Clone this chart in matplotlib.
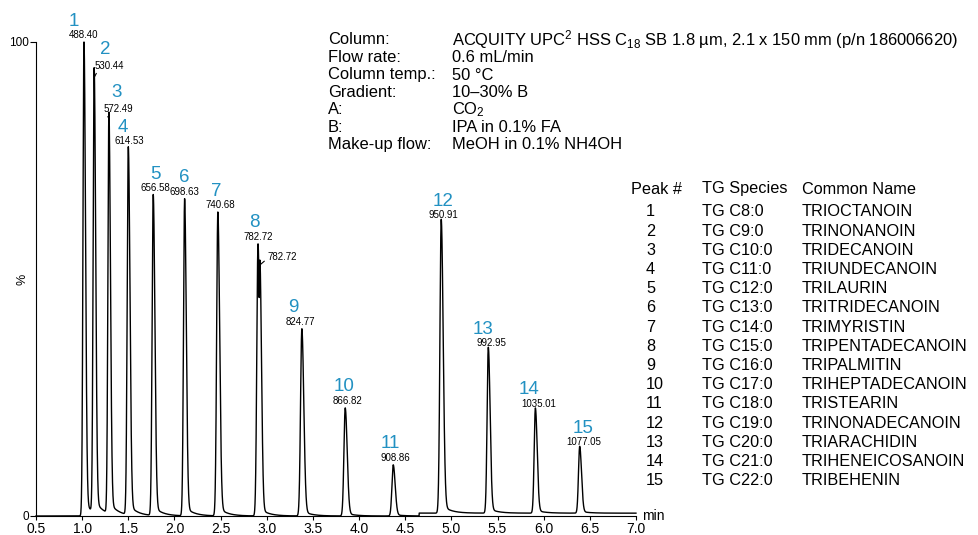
import numpy as np
import matplotlib
matplotlib.use("Agg")
import matplotlib.pyplot as plt

plt.rcParams['font.family'] = ['Liberation Sans', 'DejaVu Sans']
plt.rcParams['mathtext.fontset'] = 'custom'
plt.rcParams['mathtext.rm'] = 'Liberation Sans'
plt.rcParams['mathtext.default'] = 'regular'

# данные пиков (время удерживания, мин / высота, %)
peak_rt = [1.02, 1.13, 1.29, 1.50, 1.77, 2.11, 2.47, 2.905, 3.38, 3.85, 4.37, 4.89, 5.40, 5.91, 6.39]
peak_height = [100, 93.7, 84.6, 77.6, 67.7, 66.9, 64.1, 57.4, 39.5, 22.8, 10.8, 62.0, 35.0, 22.2, 14.1]
peak_width = [0.011, 0.011, 0.011, 0.012, 0.012, 0.012, 0.013, 0.013, 0.014, 0.014, 0.014, 0.014, 0.013, 0.013, 0.013]
peak_mz = ['488.40', '530.44', '572.49', '614.53', '656.58', '698.63', '740.68', '782.72',
           '824.77', '866.82', '908.86', '950.91', '992.95', '1035.01', '1077.05']
# плечо у пика 8
shoulder_rt = 2.925
shoulder_height = 54.0
shoulder_mz = '782.72'
# подъём базовой линии
baseline_start = 4.65
baseline_level = 0.6

peak_num = [str(i) for i in range(1, 16)]
tg_species = ['TG C8:0', 'TG C9:0', 'TG C10:0', 'TG C11:0', 'TG C12:0', 'TG C13:0', 'TG C14:0',
              'TG C15:0', 'TG C16:0', 'TG C17:0', 'TG C18:0', 'TG C19:0', 'TG C20:0', 'TG C21:0',
              'TG C22:0']
common_name = ['TRIOCTANOIN', 'TRINONANOIN', 'TRIDECANOIN', 'TRIUNDECANOIN', 'TRILAURIN',
               'TRITRIDECANOIN', 'TRIMYRISTIN', 'TRIPENTADECANOIN', 'TRIPALMITIN',
               'TRIHEPTADECANOIN', 'TRISTEARIN', 'TRINONADECANOIN', 'TRIARACHIDIN',
               'TRIHENEICOSANOIN', 'TRIBEHENIN']

cond_keys = ['Column:', 'Flow rate:', 'Column temp.:', 'Gradient:', 'A:', 'B:', 'Make-up flow:']
cond_vals = ['ACQUITY UPC$^{2}$ HSS C$_{18}$ SB 1.8 µm, 2.1 x 150 mm (p/n 186006620)',
             '0.6 mL/min', '50 °C', '10–30% B', 'CO$_{2}$', 'IPA in 0.1% FA', 'MeOH in 0.1% NH4OH']

xticks = [0.5, 1.0, 1.5, 2.0, 2.5, 3.0, 3.5, 4.0, 4.5, 5.0, 5.5, 6.0, 6.5, 7.0]

# смещения подписей (в пикселях)
num_dx = [-10, 11, 8, -5, 2, 0, -2, -4, -9, -1, -3, 2, -5, -6, 3]
mz_dx = [0, 15, 9, 1, 2, 0, 2, 0, -1, 2, 2, 2, 3, 3, 4]

BLUE = '#2291c2'
NARROW = ['Liberation Sans Narrow', 'Liberation Sans']


def peak_shape(t, rt, h, w):
    d = t - rt
    left = np.exp(-0.5 * (d / w) ** 2)
    a, tau = 0.03, 0.09
    right = (1 - a) * np.exp(-0.5 * (d / (1.5 * w)) ** 2) + a * np.exp(-np.clip(d, 0, None) / tau)
    return h * np.where(d < 0, left, right)


t = np.arange(0.5, 7.0, 0.0005)
signal = np.where(t >= baseline_start, baseline_level, 0.0)
for rt, h, w in zip(peak_rt, peak_height, peak_width):
    signal = signal + peak_shape(t, rt, h, w)
signal = np.maximum(signal, peak_shape(t, shoulder_rt, shoulder_height, 0.012))

fig = plt.figure(figsize=(9.79, 5.35), dpi=100)
ax = fig.add_axes([36 / 979, 19 / 535, 600 / 979, 474 / 535])
ax.plot(t, signal, color='black', lw=1.0, clip_on=False)

ax.set_xlim(0.5, 7.0)
ax.set_ylim(0, 100)
ax.spines['top'].set_visible(False)
ax.spines['right'].set_visible(False)
ax.set_xticks(xticks)
ax.set_xticklabels([f'{v:.1f}' for v in xticks], fontsize=10)
ax.set_yticks([0, 100])
ax.set_yticklabels(['0', '100'], fontsize=8.5)
ax.tick_params(axis='x', length=3, width=0.8, pad=1)
ax.tick_params(axis='y', length=4, width=0.8, pad=1)
ax.text(-0.022, 0.5, '%', transform=ax.transAxes, rotation=90, ha='center', va='center', fontsize=9)
ax.text(1.01, 0.0, 'min', transform=ax.transAxes, ha='left', va='center', fontsize=10, family=NARROW)

pt = 72 / 100
for i in range(15):
    xy = (peak_rt[i], peak_height[i])
    if i in (1, 2):
        ax.annotate(peak_mz[i], xy=(peak_rt[i] + 0.005, peak_height[i] - 1), xytext=(mz_dx[i] * pt, 6 * pt),
                    textcoords='offset points', ha='center', va='bottom', fontsize=7,
                    arrowprops=dict(arrowstyle='-', lw=0.8, color='black', shrinkA=0, shrinkB=0,
                                    relpos=(0.1, 0.0)))
        ax.annotate(peak_num[i], xy=xy, xytext=(num_dx[i] * pt, 22 * pt), textcoords='offset points',
                    ha='center', va='center', fontsize=13.5, color=BLUE, family=NARROW)
    else:
        ax.annotate(peak_mz[i], xy=xy, xytext=(mz_dx[i] * pt, 2 * pt), textcoords='offset points',
                    ha='center', va='bottom', fontsize=7)
        ax.annotate(peak_num[i], xy=xy, xytext=(num_dx[i] * pt, 21 * pt), textcoords='offset points',
                    ha='center', va='center', fontsize=13.5, color=BLUE, family=NARROW)

ax.annotate(shoulder_mz, xy=(shoulder_rt + 0.003, shoulder_height - 1), xytext=(7 * pt, 3 * pt),
            textcoords='offset points', ha='left', va='bottom', fontsize=7,
            arrowprops=dict(arrowstyle='-', lw=0.8, color='black', shrinkA=0, shrinkB=0,
                            relpos=(0.0, 0.3)))

# условия хроматографии
for k, (key, val) in enumerate(zip(cond_keys, cond_vals)):
    y = 1 - (40 + k * 17.5) / 535
    fig.text(328 / 979, y, key, ha='left', va='center', fontsize=11.9)
    fig.text(452 / 979, y, val, ha='left', va='center', fontsize=11.9)

# таблица пиков
fig.text(631 / 979, 1 - 189 / 535, 'Peak #', ha='left', va='center', fontsize=11.7)
fig.text(702 / 979, 1 - 189 / 535, 'TG Species', ha='left', va='center', fontsize=11.7)
fig.text(802 / 979, 1 - 189 / 535, 'Common Name', ha='left', va='center', fontsize=11.7)
for k in range(15):
    y = 1 - (212 + k * 19.2) / 535
    fig.text(646 / 979, y, peak_num[k], ha='left', va='center', fontsize=11.7)
    fig.text(702 / 979, y, tg_species[k], ha='left', va='center', fontsize=11.7)
    fig.text(802 / 979, y, common_name[k], ha='left', va='center', fontsize=11.7)

fig.savefig('out.png', dpi=100)
